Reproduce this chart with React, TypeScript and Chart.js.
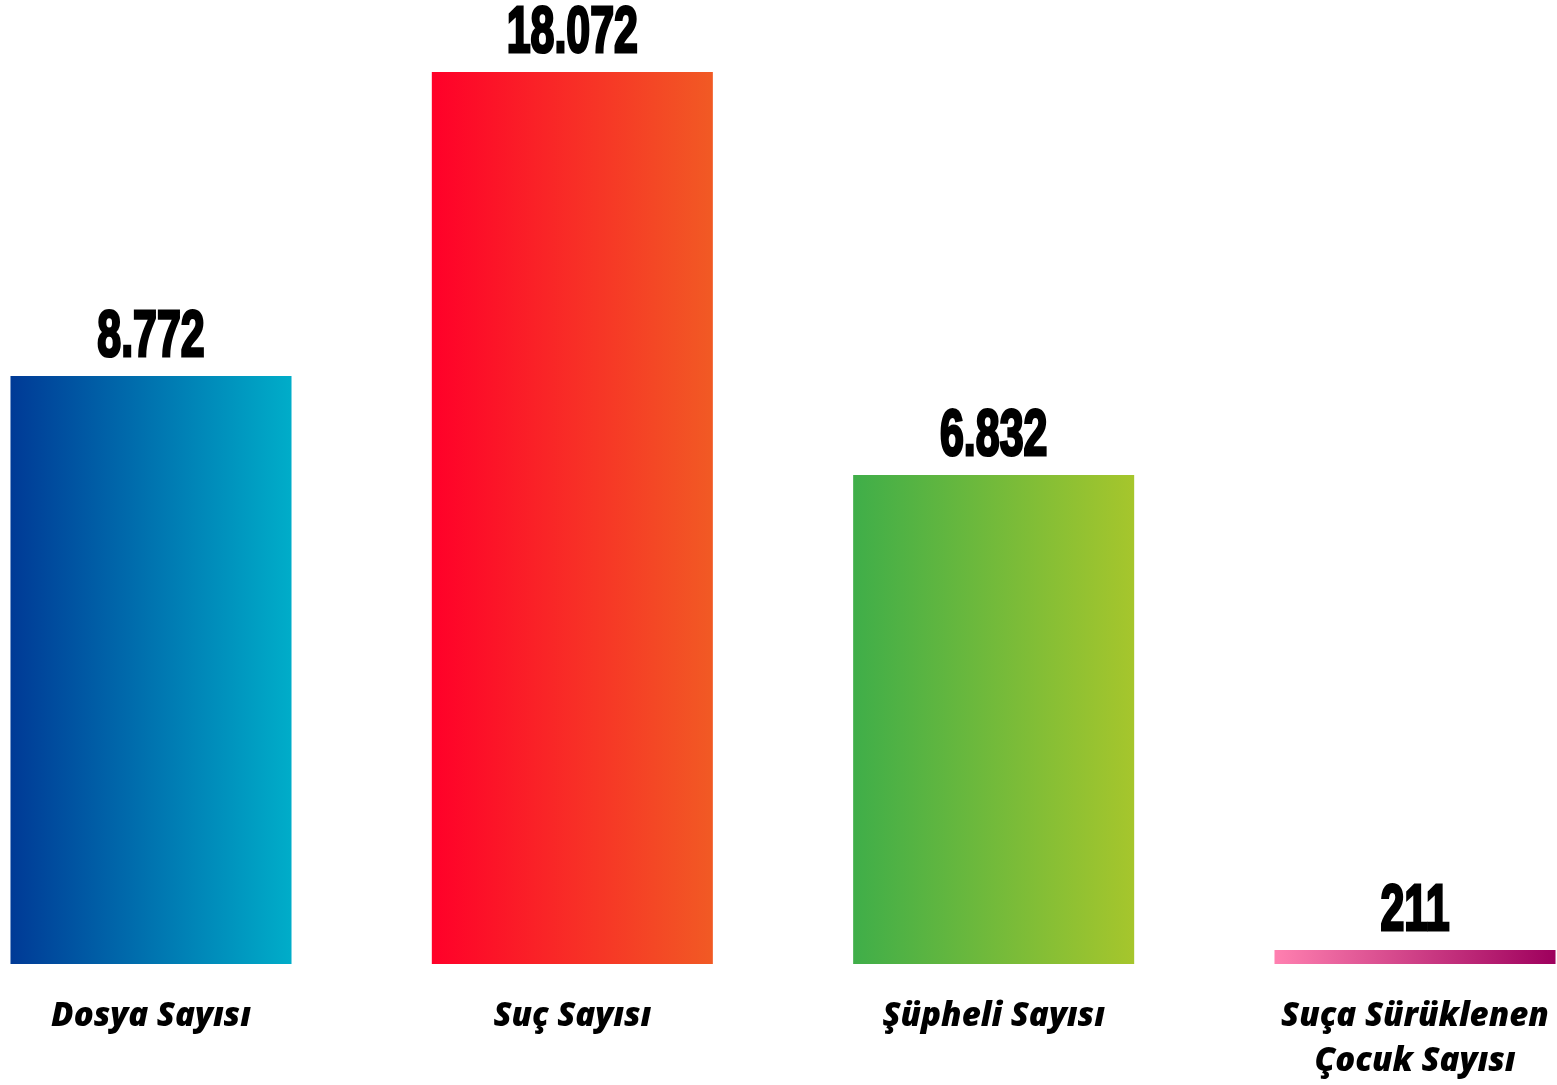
import React, { useEffect, useRef } from "react";
import { Chart, registerables } from "chart.js";

Chart.register(...registerables);

// Categories (two-line label for the last one)
const categories: (string | string[])[] = [
  "Dosya Sayısı",
  "Suç Sayısı",
  "Şüpheli Sayısı",
  ["Suça Sürüklenen", "Çocuk Sayısı"],
];

// Printed values above the bars
const valueLabels = ["8.772", "18.072", "6.832", "211"];

// Bar heights as drawn in the picture (same unit as the tallest bar, 18.072)
const barHeights = [11913, 18072, 9907, 284];

// Horizontal gradient colours (left -> right) per bar
const gradientStarts = ["#003a96", "#ff0029", "#3fae49", "#ff80b0"];
const gradientEnds = ["#00adc9", "#f15a24", "#a6c62c", "#9e005d"];

const BAR_PCT = 0.667;

const valueLabelPlugin = {
  id: "valueLabels",
  afterDatasetsDraw(chart: any) {
    const meta = chart.getDatasetMeta(0);
    const ctx = chart.ctx;
    meta.data.forEach((bar: any, i: number) => {
      const { x, y } = bar.getProps(["x", "y"], true);
      ctx.save();
      ctx.translate(x, y - 20);
      ctx.scale(0.66, 1);
      ctx.font = 'bold 65px "Liberation Sans", "DejaVu Sans", sans-serif';
      ctx.textAlign = "center";
      ctx.textBaseline = "alphabetic";
      ctx.fillStyle = "#000000";
      ctx.strokeStyle = "#000000";
      ctx.lineWidth = 3;
      ctx.lineJoin = "miter";
      ctx.fillText(valueLabels[i], 0, 0);
      ctx.strokeText(valueLabels[i], 0, 0);
      ctx.restore();
    });
  },
};

export default function App() {
  const canvasRef = useRef<HTMLCanvasElement | null>(null);

  useEffect(() => {
    if (!canvasRef.current) return;
    const chart = new Chart(canvasRef.current, {
      type: "bar",
      data: {
        labels: categories,
        datasets: [
          {
            data: barHeights,
            clip: false as any,
            borderWidth: 0,
            backgroundColor: (c: any) => {
              const ch = c.chart;
              const i = c.dataIndex;
              if (!ch.chartArea || !ch.scales.x || i === undefined) return gradientStarts[i ?? 0];
              const xs = ch.scales.x;
              const cx = xs.getPixelForValue(i);
              const step = Math.abs(xs.getPixelForValue(1) - xs.getPixelForValue(0));
              const half = (step * BAR_PCT) / 2;
              const g = ch.ctx.createLinearGradient(cx - half, 0, cx + half, 0);
              g.addColorStop(0, gradientStarts[i]);
              g.addColorStop(1, gradientEnds[i]);
              return g;
            },
            categoryPercentage: 1,
            barPercentage: BAR_PCT,
          },
        ],
      },
      options: {
        animation: false,
        responsive: true,
        maintainAspectRatio: false,
        layout: { padding: { left: 151, right: 142, top: 72, bottom: 0 } },
        plugins: {
          legend: { display: false },
          tooltip: { enabled: false },
        },
        scales: {
          x: {
            offset: false,
            grid: { display: false, drawTicks: false },
            border: { display: false },
            afterFit: (scale: any) => {
              scale.height = 121;
              scale.paddingLeft = 0;
              scale.paddingRight = 0;
            },
            ticks: {
              color: "#000000",
              padding: 30,
              autoSkip: false,
              maxRotation: 0,
              font: { family: '"Open Sans"', size: 33, weight: "800", style: "italic", lineHeight: 1.37 },
            },
          },
          y: {
            display: false,
            min: 0,
            max: 18072,
          },
        },
      },
      plugins: [valueLabelPlugin],
    });
    return () => chart.destroy();
  }, []);

  return (
    <div style={{ position: "absolute", left: 0, top: 0, width: 1557, height: 1085, background: "#ffffff" }}>
      <canvas ref={canvasRef} style={{ display: "block" }} />
    </div>
  );
}
